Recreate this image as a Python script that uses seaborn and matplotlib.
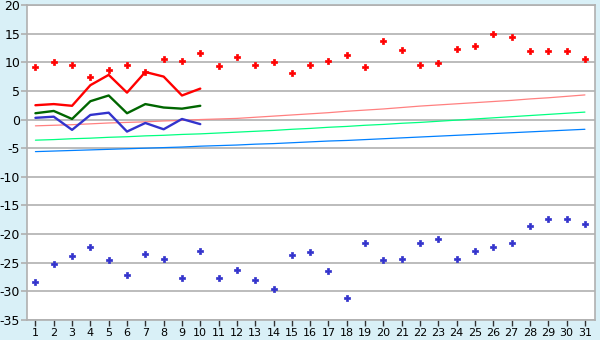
import matplotlib
matplotlib.use("Agg")
import matplotlib.pyplot as plt
import seaborn as sns
import pandas as pd

days = list(range(1, 32))

max_points = [9.1, 10.0, 9.5, 7.5, 8.6, 9.5, 8.3, 10.5, 10.3, 11.6,
              9.3, 10.9, 9.5, 10.0, 8.2, 9.5, 10.2, 11.2, 9.1, 13.7,
              12.1, 9.5, 9.8, 12.4, 12.8, 15.0, 14.4, 11.9, 11.9, 11.9, 10.5]
min_points = [-28.4, -25.3, -23.9, -22.3, -24.6, -27.2, -23.4, -24.4, -27.6, -23.0,
              -27.6, -26.3, -28.1, -29.6, -23.7, -23.2, -26.5, -31.2, -21.6, -24.6,
              -24.4, -21.6, -20.9, -24.4, -23.0, -22.3, -21.6, -18.6, -17.3, -17.3, -18.3]

obs_days = list(range(1, 11))
obs_max = [2.5, 2.7, 2.4, 6.0, 7.8, 4.7, 8.3, 7.5, 4.2, 5.4]
obs_mean = [1.1, 1.5, 0.1, 3.2, 4.2, 1.1, 2.7, 2.1, 1.9, 2.4]
obs_min = [0.3, 0.5, -1.8, 0.8, 1.2, -2.1, -0.6, -1.7, 0.1, -0.8]

norm_max = [-1.1, -1.0, -0.9, -0.75, -0.6, -0.5, -0.4, -0.25, -0.15, 0.0, 0.1, 0.2,
            0.4, 0.6, 0.8, 1.0, 1.2, 1.45, 1.65, 1.85, 2.1, 2.35, 2.55, 2.75, 2.95,
            3.15, 3.35, 3.6, 3.8, 4.05, 4.3]
norm_mean = [-3.6, -3.5, -3.35, -3.25, -3.1, -3.0, -2.85, -2.75, -2.6, -2.5, -2.35,
             -2.2, -2.05, -1.9, -1.7, -1.55, -1.35, -1.2, -1.0, -0.85, -0.65, -0.5,
             -0.3, -0.1, 0.1, 0.3, 0.5, 0.7, 0.9, 1.1, 1.3]
norm_min = [-5.6, -5.5, -5.4, -5.3, -5.2, -5.1, -5.0, -4.9, -4.8, -4.65, -4.55, -4.45,
            -4.3, -4.2, -4.05, -3.9, -3.75, -3.65, -3.5, -3.35, -3.2, -3.05, -2.9,
            -2.75, -2.6, -2.45, -2.3, -2.15, -2.0, -1.85, -1.7]

y_ticks = list(range(-35, 21, 5))

sns.set_theme(style="white")
plt.rcParams['font.family'] = ['DejaVu Sans']
plt.rcParams['axes.unicode_minus'] = False

bg = "#d9f0f7"
grid_c = "#b0b0b0"

fig = plt.figure(figsize=(6, 3.4), dpi=100, facecolor=bg)
ax = fig.add_axes([27/600, 20/340, 568/600, 315/340])
ax.set_facecolor("white")

df_full = pd.DataFrame({"day": days, "max_points": max_points, "min_points": min_points,
                        "norm_max": norm_max, "norm_mean": norm_mean, "norm_min": norm_min})
df_obs = pd.DataFrame({"day": obs_days, "obs_max": obs_max, "obs_mean": obs_mean, "obs_min": obs_min})

for col, c in [("norm_max", "#ff8080"), ("norm_mean", "#00ff80"), ("norm_min", "#0080ff")]:
    sns.lineplot(data=df_full, x="day", y=col, ax=ax, color=c, linewidth=0.9, zorder=3)

for col, c in [("obs_max", "#ff0000"), ("obs_mean", "#006600"), ("obs_min", "#3333cc")]:
    sns.lineplot(data=df_obs, x="day", y=col, ax=ax, color=c, linewidth=1.7, zorder=4)

sns.scatterplot(data=df_full, x="day", y="max_points", ax=ax, color="#ff0000",
                marker="P", s=22, edgecolor="#ff0000", linewidth=0.5, zorder=5)
sns.scatterplot(data=df_full, x="day", y="min_points", ax=ax, color="#3333cc",
                marker="P", s=17, edgecolor="#3333cc", linewidth=0.5, zorder=5)

ax.set_xlim(0.54, 31.55)
ax.set_ylim(-35, 20)
ax.set_xticks(days)
ax.set_xticklabels([str(d) for d in days])
ax.set_yticks(y_ticks)
ax.set_yticklabels([str(v) for v in y_ticks])
ax.yaxis.grid(True, color=grid_c, linewidth=1.2, zorder=1)
ax.set_axisbelow(True)
ax.set_xlabel("")
ax.set_ylabel("")

for s in ["left", "right", "top", "bottom"]:
    ax.spines[s].set_color(grid_c)
    ax.spines[s].set_linewidth(1.2)

ax.tick_params(axis="x", direction="out", length=4, width=1, color="#333333",
               labelsize=8, pad=1.5, labelcolor="black", bottom=True)
ax.tick_params(axis="y", direction="out", length=4, width=1.2, color=grid_c,
               labelsize=9, pad=1, labelcolor="black", left=True)

fig.savefig("out.png", dpi=100, facecolor=bg)
